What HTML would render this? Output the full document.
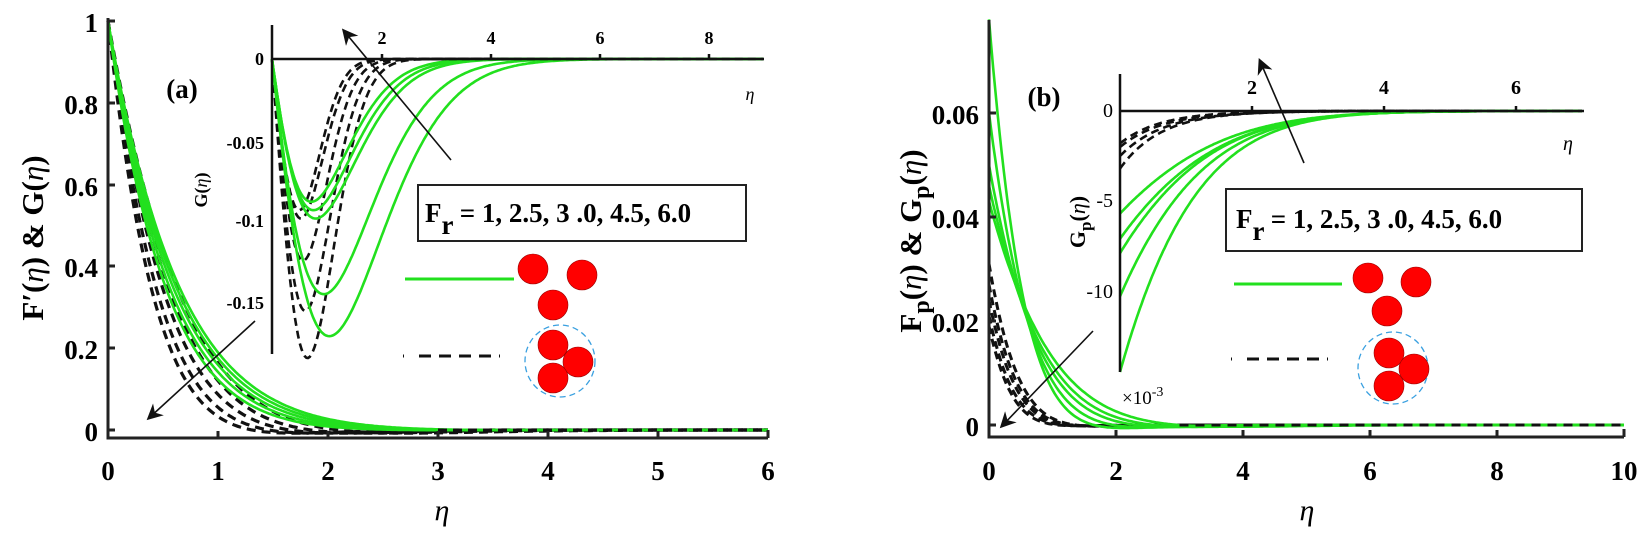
<!DOCTYPE html>
<html><head><meta charset="utf-8"><style>
html,body{margin:0;padding:0;background:#fff;}
svg{display:block;font-family:"Liberation Serif",serif;font-weight:bold;}
</style></head><body>
<svg id="s" width="1651" height="536" viewBox="0 0 1651 536" xmlns="http://www.w3.org/2000/svg">
<rect width="1651" height="536" fill="#fff"/>
<g id="curves"></g>
<!-- Panel a axes -->
<g stroke="#222" stroke-width="3" fill="none">
<path d="M108,18 V438 H768"/>
<path d="M218,438v-7 M328,438v-7 M438,438v-7 M548,438v-7 M658,438v-7 M768,438v-8"/>
<path d="M108,430h7 M108,348h7 M108,266h7 M108,185h7 M108,103h7 M108,21h7"/>
</g>
<g font-size="27" text-anchor="end">
<text x="98" y="441">0</text><text x="98" y="359">0.2</text><text x="98" y="277">0.4</text><text x="98" y="196">0.6</text><text x="98" y="114">0.8</text><text x="98" y="32">1</text>
</g>
<g font-size="27" text-anchor="middle">
<text x="108" y="480">0</text><text x="218" y="480">1</text><text x="328" y="480">2</text><text x="438" y="480">3</text><text x="548" y="480">4</text><text x="658" y="480">5</text><text x="768" y="480">6</text>
</g>
<text x="442" y="520" font-size="30" font-style="italic" font-weight="normal" text-anchor="middle">η</text>
<text transform="translate(43,238) rotate(-90)" font-size="31" text-anchor="middle">F′(<tspan font-style="italic" font-weight="normal">η</tspan>) &amp; G(<tspan font-style="italic" font-weight="normal">η</tspan>)</text>
<text x="182" y="98" font-size="27" text-anchor="middle">(a)</text>
<!-- inset a -->
<g stroke="#111" stroke-width="2.5" fill="none">
<path d="M272,25 V354 M272,59 H764"/>
<path d="M382,59v-5 M491,59v-5 M600,59v-5 M709,59v-5"/>
</g>
<g font-size="18" text-anchor="middle"><text x="382" y="44">2</text><text x="491" y="44">4</text><text x="600" y="44">6</text><text x="709" y="44">8</text></g>
<g font-size="18" text-anchor="end"><text x="264" y="65">0</text><text x="264" y="149">-0.05</text><text x="264" y="227">-0.1</text><text x="264" y="309">-0.15</text></g>
<text x="750" y="100" font-size="18" font-style="italic" font-weight="normal" text-anchor="middle">η</text>
<text transform="translate(207,190) rotate(-90)" font-size="18" text-anchor="middle">G(<tspan font-style="italic" font-weight="normal">η</tspan>)</text>
<!-- Panel b axes -->
<g stroke="#222" stroke-width="3" fill="none">
<path d="M989,20 V437 H1624"/>
<path d="M1116,437v-7 M1243,437v-7 M1370,437v-7 M1497,437v-7 M1624,437v-8"/>
<path d="M989,425h7 M989,321h7 M989,217h7 M989,113h7"/>
</g>
<g font-size="27" text-anchor="end">
<text x="979" y="436">0</text><text x="979" y="332">0.02</text><text x="979" y="228">0.04</text><text x="979" y="124">0.06</text>
</g>
<g font-size="27" text-anchor="middle">
<text x="989" y="480">0</text><text x="1116" y="480">2</text><text x="1243" y="480">4</text><text x="1370" y="480">6</text><text x="1497" y="480">8</text><text x="1624" y="480">10</text>
</g>
<text x="1307" y="520" font-size="30" font-style="italic" font-weight="normal" text-anchor="middle">η</text>
<text transform="translate(921,241) rotate(-90)" font-size="31" text-anchor="middle">F<tspan dy="8" font-size="24">p</tspan><tspan dy="-8">(</tspan><tspan font-style="italic" font-weight="normal">η</tspan>) &amp; G<tspan dy="8" font-size="24">p</tspan><tspan dy="-8">(</tspan><tspan font-style="italic" font-weight="normal">η</tspan>)</text>
<text x="1044" y="106" font-size="27" text-anchor="middle">(b)</text>
<!-- inset b -->
<g stroke="#111" stroke-width="2.5" fill="none">
<path d="M1120,74 V372 M1120,111 H1584"/>
<path d="M1252,111v-5 M1384,111v-5 M1516,111v-5"/>
</g>
<g font-size="20" text-anchor="middle"><text x="1252" y="94">2</text><text x="1384" y="94">4</text><text x="1516" y="94">6</text></g>
<g font-size="20" font-weight="normal" text-anchor="end"><text x="1113" y="117">0</text><text x="1113" y="207">-5</text><text x="1113" y="298">-10</text></g>
<text x="1568" y="150" font-size="20" font-style="italic" font-weight="normal" text-anchor="middle">η</text>
<text transform="translate(1085,222) rotate(-90)" font-size="22" text-anchor="middle">G<tspan dy="6" font-size="17">p</tspan><tspan dy="-6">(</tspan><tspan font-style="italic" font-weight="normal">η</tspan>)</text>
<text x="1122" y="404" font-size="19" font-weight="normal">×10<tspan dy="-8" font-size="14">-3</tspan></text>
<!-- arrows -->
<defs><marker id="ah" markerWidth="10" markerHeight="10" refX="8" refY="5" orient="auto"><path d="M0,0 L10,5 L0,10 L3,5 z" fill="#111"/></marker></defs>
<g stroke="#111" stroke-width="1.6" marker-end="url(#ah)">
<line x1="255" y1="321" x2="149" y2="418"/>
<line x1="451" y1="160" x2="344" y2="31"/>
<line x1="1093" y1="331" x2="1002" y2="426"/>
<line x1="1304" y1="163" x2="1260" y2="61"/>
</g>
<!-- legends -->
<g>
<rect x="418" y="185" width="328" height="56" fill="#fff" stroke="#222" stroke-width="2"/>
<text x="425" y="222" font-size="27">F<tspan dy="12">r</tspan><tspan dy="-12"> = 1, 2.5, 3 .0, 4.5, 6.0</tspan></text>
<line x1="405" y1="279" x2="514" y2="279" stroke="#22e01e" stroke-width="3"/>
<g fill="#f00" stroke="#900" stroke-width="0.6"><circle cx="533" cy="269" r="15"/><circle cx="582" cy="275" r="15"/><circle cx="553" cy="305" r="15"/></g>
<line x1="403" y1="356" x2="512" y2="356" stroke="#111" stroke-width="3" stroke-dasharray="1,15,12,8,12,8,12,8,12,8"/>
<ellipse cx="560" cy="361" rx="35" ry="36" fill="none" stroke="#3aa0e0" stroke-width="1.3" stroke-dasharray="6,4"/>
<g fill="#f00" stroke="#900" stroke-width="0.6"><circle cx="553" cy="345" r="15"/><circle cx="578" cy="362" r="15"/><circle cx="553" cy="378" r="15"/></g>
</g>
<g>
<rect x="1226" y="189" width="356" height="62" fill="#fff" stroke="#222" stroke-width="2"/>
<text x="1236" y="228" font-size="27">F<tspan dy="12">r</tspan><tspan dy="-12"> = 1, 2.5, 3 .0, 4.5, 6.0</tspan></text>
<line x1="1234" y1="284" x2="1342" y2="284" stroke="#22e01e" stroke-width="3"/>
<g fill="#f00" stroke="#900" stroke-width="0.6"><circle cx="1368" cy="278" r="15"/><circle cx="1416" cy="282" r="15"/><circle cx="1387" cy="311" r="15"/></g>
<line x1="1231" y1="359" x2="1340" y2="359" stroke="#111" stroke-width="3" stroke-dasharray="1,15,12,8,12,8,12,8,12,8"/>
<ellipse cx="1393" cy="368" rx="35" ry="36" fill="none" stroke="#3aa0e0" stroke-width="1.3" stroke-dasharray="6,4"/>
<g fill="#f00" stroke="#900" stroke-width="0.6"><circle cx="1389" cy="353" r="15"/><circle cx="1414" cy="369" r="15"/><circle cx="1389" cy="386" r="15"/></g>
</g>
</svg>
<script>
(function(){
var g=document.getElementById('curves');var NS='http://www.w3.org/2000/svg';
function path(f,X,Y,a,b,col,dash,w){var d='';var n=300;for(var i=0;i<=n;i++){var t=a+(b-a)*i/n;d+=(i?'L':'M')+X(t).toFixed(1)+','+Y(f(t)).toFixed(1);}
var p=document.createElementNS(NS,'path');p.setAttribute('d',d);p.setAttribute('fill','none');p.setAttribute('stroke',col);p.setAttribute('stroke-width',w||2.6);if(dash)p.setAttribute('stroke-dasharray',dash);g.appendChild(p);}
var G='#22e01e',K='#111';
var XA=function(t){return 108+110*t},YA=function(v){return 430-409*v};
[1.5,1.7,1.9,2.15,2.4].forEach(function(k){path(function(t){return Math.exp(-k*t)*Math.cos(0.5*k*t)},XA,YA,0,6,K,'9,6',3.2)});
[1.55,1.62,1.7,1.8,1.92].forEach(function(k){path(function(t){return Math.exp(-k*t)*Math.cos(0.3*k*t)},XA,YA,0,6,G,null,2.6)});
path(function(t){return 0},XA,YA,3,6,K,'9,6',3);
var XI=function(t){return 272+54.6*t},YI=function(v){return 59-1680*v};
function bump(A,m,p){return function(t){var u=t/m;return -A*u*Math.exp((1-Math.pow(u,p))/p)}}
[[0.09,0.5],[0.095,0.53],[0.12,0.57],[0.15,0.61],[0.178,0.65]].forEach(function(q){path(bump(q[0],q[1],2),XI,YI,0,9,K,'8,5',2.6)});
[[0.085,0.72],[0.09,0.76],[0.095,0.8],[0.14,0.95],[0.165,1.05]].forEach(function(q){path(bump(q[0],q[1],1.5),XI,YI,0,9,G,null,2.6)});
path(function(t){return 0},XI,YI,3,9,K,'8,5',2.6);
var XB=function(t){return 989+63.5*t},YB=function(v){return 425-5200*v};
[[0.031,2.3],[0.027,2.4],[0.024,2.5],[0.021,2.7],[0.019,2.9]].forEach(function(q){path(function(t){return q[0]*Math.exp(-q[1]*t)*Math.cos(0.5*q[1]*t)},XB,YB,0,10,K,'8,5',3)});
[[0.078,1.9],[0.06,1.6],[0.05,1.35],[0.046,1.2],[0.043,1.05]].forEach(function(q){path(function(t){return q[0]*Math.exp(-q[1]*t)*Math.cos(0.5*q[1]*t)},XB,YB,0,10,G,null,2.6)});
path(function(t){return 0},XB,YB,3,10,K,'9,7',3);
var XJ=function(t){return 1120+66*t},YJ=function(v){return 111-18*v};
[[-1.8,1.6],[-2.0,1.5],[-2.5,1.5],[-3.2,1.6]].forEach(function(q){path(function(t){return q[0]*Math.exp(-q[1]*t)},XJ,YJ,0,7,K,'8,5',2.6)});
[[-5.7,0.68],[-7.1,0.72],[-7.9,0.76],[-10.3,0.82],[-14.5,0.9]].forEach(function(q){path(function(t){return q[0]*Math.exp(-q[1]*t-0.08*t*t)},XJ,YJ,0,7,G,null,2.6)});
path(function(t){return 0},XJ,YJ,3,7,K,'8,5',2.6);
})();
</script>
</body></html>
